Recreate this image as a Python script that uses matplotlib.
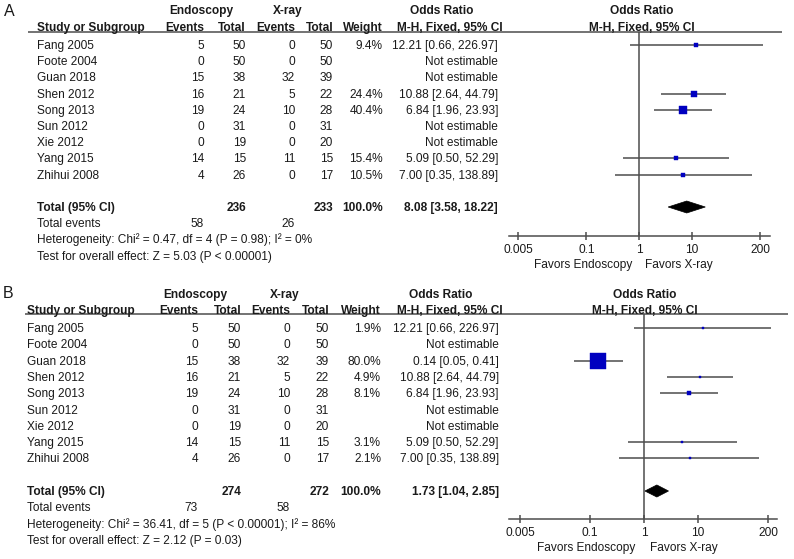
import numpy as np
import matplotlib
matplotlib.use("Agg")
import matplotlib.pyplot as plt
from matplotlib.patches import Polygon

plt.rcParams['font.family'] = ['Liberation Sans', 'DejaVu Sans']

# ---------------- data ----------------
studies = ["Fang 2005", "Foote 2004", "Guan 2018", "Shen 2012", "Song 2013",
           "Sun 2012", "Xie 2012", "Yang 2015", "Zhihui 2008"]
endo_events = [5, 0, 15, 16, 19, 0, 0, 14, 4]
endo_total = [50, 50, 38, 21, 24, 31, 19, 15, 26]
xray_events = [0, 0, 32, 5, 10, 0, 0, 11, 0]
xray_total = [50, 50, 39, 22, 28, 31, 20, 15, 17]

# Panel A
weight_a = [9.4, None, None, 24.4, 40.4, None, None, 15.4, 10.5]
or_a = [12.21, None, None, 10.88, 6.84, None, None, 5.09, 7.00]
lo_a = [0.66, None, None, 2.64, 1.96, None, None, 0.50, 0.35]
hi_a = [226.97, None, None, 44.79, 23.93, None, None, 52.29, 138.89]
total_a = dict(n1=236, n2=233, ev1=58, ev2=26, est=8.08, lo=3.58, hi=18.22,
               het="Heterogeneity: Chi² = 0.47, df = 4 (P = 0.98); I² = 0%",
               test="Test for overall effect: Z = 5.03 (P < 0.00001)")

# Panel B
weight_b = [1.9, None, 80.0, 4.9, 8.1, None, None, 3.1, 2.1]
or_b = [12.21, None, 0.14, 10.88, 6.84, None, None, 5.09, 7.00]
lo_b = [0.66, None, 0.05, 2.64, 1.96, None, None, 0.50, 0.35]
hi_b = [226.97, None, 0.41, 44.79, 23.93, None, None, 52.29, 138.89]
total_b = dict(n1=274, n2=272, ev1=73, ev2=58, est=1.73, lo=1.04, hi=2.85,
               het="Heterogeneity: Chi² = 36.41, df = 5 (P < 0.00001); I² = 86%",
               test="Test for overall effect: Z = 2.12 (P = 0.03)")

tick_vals = [0.005, 0.1, 1, 10, 200]
tick_labels = ["0.005", "0.1", "1", "10", "200"]

# ---------------- layout ----------------
W, H = 794, 559
TXT = '#1a1a1a'
LINE = '#4d4d4d'
BLUE = '#0000c0'
FS = 8.6

layout_a = dict(label="A", label_x=4, label_y=11, grp_y=10, hdr_y=27, line_y=32,
                row0=45, dy=16.2, name=37, ev1=204, tot1=246, ev2=295, tot2=333,
                wt=383, orx=498, grp1=201, grp2=288, or_hdr=442, mh_hdr=450,
                plot_hdr=642, line_x0=28, line_x1=782, ax_x0=509, ax_x1=770,
                ax_yb=236, x_one=639, ppd=52.6, fav_y=264, fav1=583, fav2=679,
                msc=0.72)
layout_b = dict(label="B", label_x=3, label_y=294, grp_y=294, hdr_y=310, line_y=314,
                row0=328, dy=16.3, name=27, ev1=198, tot1=241, ev2=290, tot2=329,
                wt=381, orx=499, grp1=195, grp2=285, or_hdr=441, mh_hdr=450,
                plot_hdr=645, line_x0=25, line_x1=788, ax_x0=509, ax_x1=777,
                ax_yb=519, x_one=644, ppd=53.9, fav_y=547, fav1=586, fav2=684,
                msc=0.87)

fig = plt.figure(figsize=(W / 100, H / 100), dpi=100)
ov = fig.add_axes([0, 0, 1, 1])
ov.set_xlim(0, W)
ov.set_ylim(H, 0)
ov.axis('off')


def t(x, y, s, ha='left', bold=False, size=FS):
    ov.text(x, y + 4, s, ha=ha, va='baseline', fontsize=size, color=TXT,
            fontweight='bold' if bold else 'normal')


def panel(L, weights, ors, los, his, tot):
    # panel letter
    ov.text(L['label_x'], L['label_y'], L['label'], ha='left', va='center',
            fontsize=11.5, color=TXT)
    # headers
    t(L['grp1'], L['grp_y'], "Endoscopy", 'center', True)
    t(L['grp2'], L['grp_y'], "X-ray", 'center', True)
    t(L['or_hdr'], L['grp_y'], "Odds Ratio", 'center', True)
    t(L['plot_hdr'], L['grp_y'], "Odds Ratio", 'center', True)
    t(L['name'], L['hdr_y'], "Study or Subgroup", 'left', True)
    t(L['ev1'], L['hdr_y'], "Events", 'right', True)
    t(L['tot1'], L['hdr_y'], "Total", 'right', True)
    t(L['ev2'], L['hdr_y'], "Events", 'right', True)
    t(L['tot2'], L['hdr_y'], "Total", 'right', True)
    t(L['wt'], L['hdr_y'], "Weight", 'right', True)
    t(L['mh_hdr'], L['hdr_y'], "M-H, Fixed, 95% CI", 'center', True)
    t(L['plot_hdr'], L['hdr_y'], "M-H, Fixed, 95% CI", 'center', True)
    ov.plot([L['line_x0'], L['line_x1']], [L['line_y'], L['line_y']],
            color=LINE, lw=1.1, solid_capstyle='butt')

    def ry(i):
        return L['row0'] + L['dy'] * i

    for i, name in enumerate(studies):
        y = ry(i)
        t(L['name'], y, name)
        t(L['ev1'], y, str(endo_events[i]), 'right')
        t(L['tot1'], y, str(endo_total[i]), 'right')
        t(L['ev2'], y, str(xray_events[i]), 'right')
        t(L['tot2'], y, str(xray_total[i]), 'right')
        if weights[i] is not None:
            t(L['wt'], y, f"{weights[i]:.1f}%", 'right')
            t(L['orx'], y, f"{ors[i]:.2f} [{los[i]:.2f}, {his[i]:.2f}]", 'right')
        else:
            t(L['orx'], y, "Not estimable", 'right')
    # totals
    y = ry(10)
    t(L['name'], y, "Total (95% CI)", 'left', True)
    t(L['tot1'], y, str(tot['n1']), 'right', True)
    t(L['tot2'], y, str(tot['n2']), 'right', True)
    t(L['wt'], y, "100.0%", 'right', True)
    t(L['orx'], y, f"{tot['est']:.2f} [{tot['lo']:.2f}, {tot['hi']:.2f}]", 'right', True)
    y = ry(11)
    t(L['name'], y, "Total events")
    t(L['ev1'], y, str(tot['ev1']), 'right')
    t(L['ev2'], y, str(tot['ev2']), 'right')
    t(L['name'], ry(12), tot['het'])
    t(L['name'], ry(13), tot['test'])
    t(L['fav1'], L['fav_y'], "Favors Endoscopy", 'center')
    t(L['fav2'], L['fav_y'], "Favors X-ray", 'center')

    # forest axes
    ax = fig.add_axes([L['ax_x0'] / W, 1 - L['ax_yb'] / H,
                       (L['ax_x1'] - L['ax_x0']) / W,
                       (L['ax_yb'] - L['line_y']) / H])
    ax.set_xscale('log')
    ax.set_xlim(10 ** ((L['ax_x0'] - L['x_one']) / L['ppd']),
                10 ** ((L['ax_x1'] - L['x_one']) / L['ppd']))
    ax.set_ylim((L['ax_yb'] - L['row0']) / L['dy'], (L['line_y'] - L['row0']) / L['dy'])
    ax.patch.set_alpha(0)
    for s in ['top', 'left', 'right']:
        ax.spines[s].set_visible(False)
    ax.spines['bottom'].set_color(LINE)
    ax.spines['bottom'].set_linewidth(1.1)
    ax.set_yticks([])
    ax.set_xticks(tick_vals)
    ax.set_xticklabels(tick_labels)
    ax.minorticks_off()
    ax.tick_params(axis='x', direction='inout', length=6, width=1.1, color=LINE,
                   labelsize=FS, labelcolor=TXT, pad=3)
    ax.axvline(1, color=LINE, lw=1.1, zorder=1)

    for i in range(len(studies)):
        if weights[i] is None:
            continue
        ax.plot([los[i], his[i]], [i, i], color=LINE, lw=1.1, zorder=2,
                solid_capstyle='butt')
        side_px = L['msc'] * weights[i] ** 0.65
        ax.plot([ors[i]], [i], marker='s', ms=max(side_px, 2.2) * 0.72,
                color=BLUE, mec=BLUE, mew=0.3, zorder=3, linestyle='none')
    yd = 10
    h = 0.37
    ax.add_patch(Polygon([(tot['lo'], yd), (tot['est'], yd - h), (tot['hi'], yd),
                          (tot['est'], yd + h)], closed=True, facecolor='black',
                         edgecolor='black', lw=0.5, zorder=3))
    return ax


panel(layout_a, weight_a, or_a, lo_a, hi_a, total_a)
panel(layout_b, weight_b, or_b, lo_b, hi_b, total_b)

fig.savefig("out.png", dpi=100)
